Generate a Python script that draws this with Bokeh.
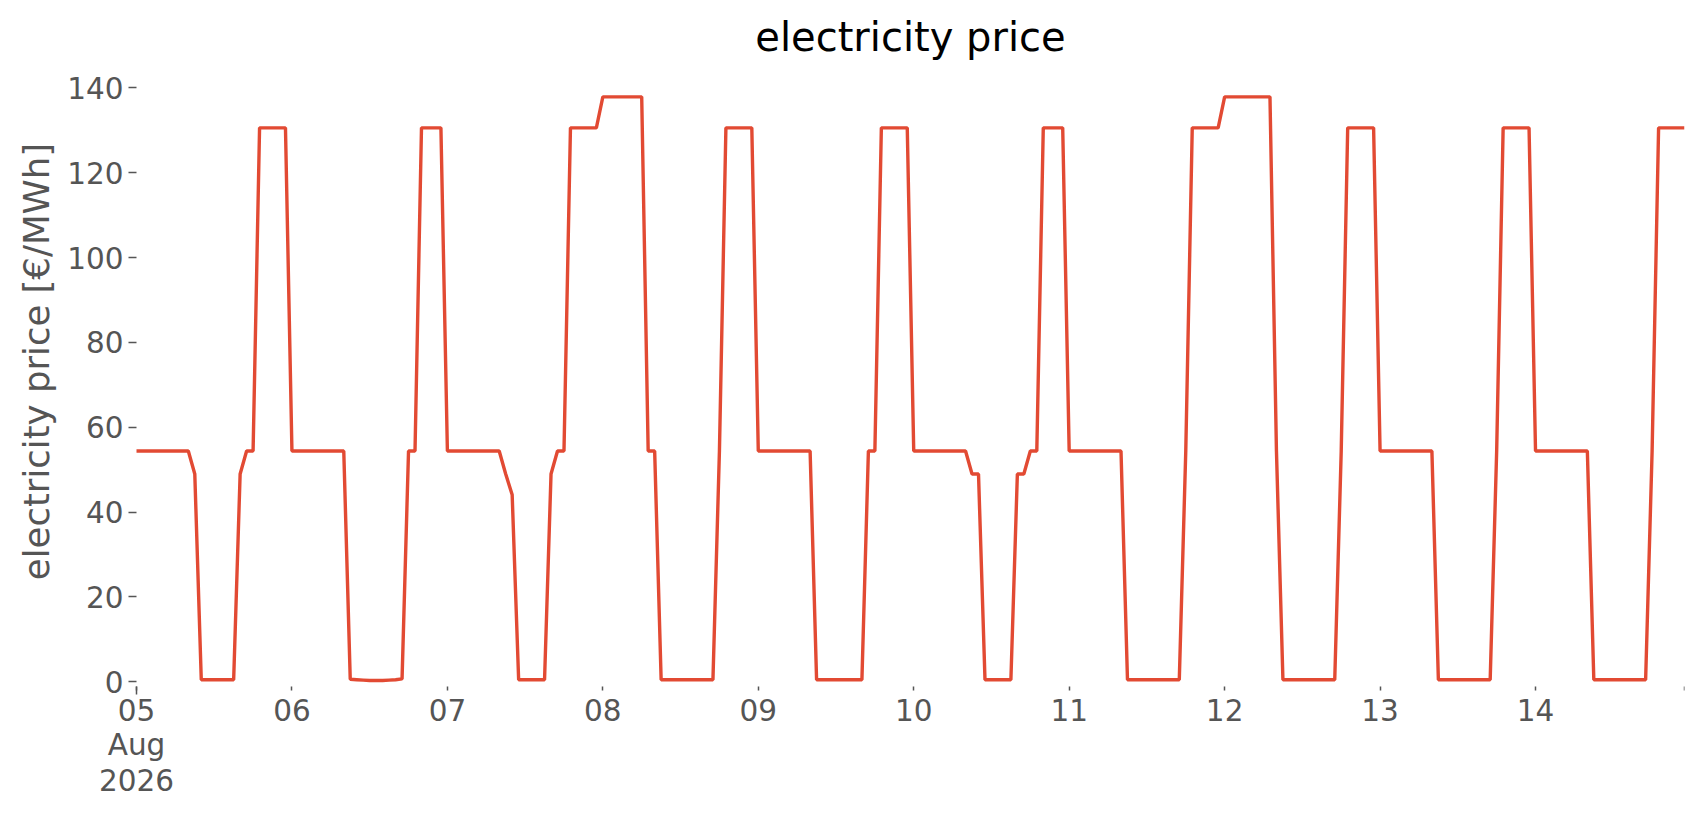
import math
import pandas as pd
from bokeh.plotting import figure
from bokeh.models import Range1d, FixedTicker, Label, ColumnDataSource
from bokeh.embed import file_html
from bokeh.resources import INLINE

# ---- data: hourly electricity price [EUR/MWh], one list per day ----
start = "2026-08-05 00:00"
aug05 = [54.4, 54.4, 54.4, 54.4, 54.4, 54.4, 54.4, 54.4, 54.4, 49.0, 0.5, 0.5,
         0.5, 0.5, 0.5, 0.5, 49.0, 54.4, 54.4, 130.6, 130.6, 130.6, 130.6, 130.6]
aug06 = [54.4, 54.4, 54.4, 54.4, 54.4, 54.4, 54.4, 54.4, 54.4, 0.6, 0.5, 0.4,
         0.3, 0.3, 0.3, 0.4, 0.5, 0.7, 54.4, 54.4, 130.6, 130.6, 130.6, 130.6]
aug07 = [54.4, 54.4, 54.4, 54.4, 54.4, 54.4, 54.4, 54.4, 54.4, 49.0, 44.1, 0.5,
         0.5, 0.5, 0.5, 0.5, 49.0, 54.4, 54.4, 130.6, 130.6, 130.6, 130.6, 130.6]
aug08 = [137.9, 137.9, 137.9, 137.9, 137.9, 137.9, 137.9, 54.4, 54.4, 0.5, 0.5, 0.5,
         0.5, 0.5, 0.5, 0.5, 0.5, 0.5, 54.4, 130.6, 130.6, 130.6, 130.6, 130.6]
aug09 = [54.4, 54.4, 54.4, 54.4, 54.4, 54.4, 54.4, 54.4, 54.4, 0.5, 0.5, 0.5,
         0.5, 0.5, 0.5, 0.5, 0.5, 54.4, 54.4, 130.6, 130.6, 130.6, 130.6, 130.6]
aug10 = [54.4, 54.4, 54.4, 54.4, 54.4, 54.4, 54.4, 54.4, 54.4, 49.0, 49.0, 0.5,
         0.5, 0.5, 0.5, 0.5, 49.0, 49.0, 54.4, 54.4, 130.6, 130.6, 130.6, 130.6]
aug11 = [54.4, 54.4, 54.4, 54.4, 54.4, 54.4, 54.4, 54.4, 54.4, 0.5, 0.5, 0.5,
         0.5, 0.5, 0.5, 0.5, 0.5, 0.5, 54.4, 130.6, 130.6, 130.6, 130.6, 130.6]
aug12 = [137.9, 137.9, 137.9, 137.9, 137.9, 137.9, 137.9, 137.9, 54.4, 0.5, 0.5, 0.5,
         0.5, 0.5, 0.5, 0.5, 0.5, 0.5, 54.4, 130.6, 130.6, 130.6, 130.6, 130.6]
aug13 = [54.4, 54.4, 54.4, 54.4, 54.4, 54.4, 54.4, 54.4, 54.4, 0.5, 0.5, 0.5,
         0.5, 0.5, 0.5, 0.5, 0.5, 0.5, 54.4, 130.6, 130.6, 130.6, 130.6, 130.6]
aug14 = [54.4, 54.4, 54.4, 54.4, 54.4, 54.4, 54.4, 54.4, 54.4, 0.5, 0.5, 0.5,
         0.5, 0.5, 0.5, 0.5, 0.5, 0.5, 54.4, 130.6, 130.6, 130.6, 130.6, 130.6]

day_labels = ["05", "06", "07", "08", "09", "10", "11", "12", "13", "14"]
first_label_context = ["Aug", "2026"]
y_ticks = [0, 20, 40, 60, 80, 100, 120, 140]

title_text = "electricity price"
y_title = "electricity price [€/MWh]"

# ---- build ----
prices = aug05 + aug06 + aug07 + aug08 + aug09 + aug10 + aug11 + aug12 + aug13 + aug14
times = pd.date_range(start, periods=len(prices), freq="h")
source = ColumnDataSource(data=dict(t=times, price=prices))

epoch = pd.Timestamp("1970-01-01")
def ms(ts):
    return int((pd.Timestamp(ts) - epoch) // pd.Timedelta("1ms"))

day_times = pd.date_range(start, periods=len(day_labels), freq="D")
day_ms = [ms(d) for d in day_times]
t0_ms = ms(times[0])
end_ms = ms(times[-1])

FONT = "DejaVu Sans"
GREY = "#555555"

# layout geometry (pixels inside the figure)
W, H = 1688, 798
B_LEFT, B_RIGHT, B_TOP, B_BOTTOM = 2, 4, 62, 0
DATA_LEFT_PX = 136          # horizontal position of the first timestamp
Y_PX_PER_UNIT = 4.2417      # vertical scale
Y142_PX = 79.0              # vertical position of value 142
data_w = W - B_RIGHT - DATA_LEFT_PX
ms_per_px = (end_ms - t0_ms) / data_w
x_start = t0_ms - (DATA_LEFT_PX - B_LEFT) * ms_per_px
y_top = 142 + (Y142_PX - B_TOP) / Y_PX_PER_UNIT
y_bottom = 142 - (H - B_BOTTOM - Y142_PX) / Y_PX_PER_UNIT

p = figure(width=W, height=H, x_axis_type="datetime",
           output_backend="svg", toolbar_location=None,
           min_border_left=B_LEFT, min_border_right=B_RIGHT,
           min_border_top=B_TOP, min_border_bottom=B_BOTTOM)
p.x_range = Range1d(x_start, end_ms)
p.y_range = Range1d(y_bottom, y_top)

p.line("t", "price", source=source, line_color="#E24A33", line_width=3.4)

# title, centred over the data area
TITLE_SIZE = 40
title_w = 7.758 * TITLE_SIZE
p.title.text = title_text
p.title.text_font = FONT
p.title.text_font_size = f"{TITLE_SIZE}px"
p.title.text_font_style = "normal"
p.title.text_color = "#000000"
p.title.align = "left"
p.title.offset = (DATA_LEFT_PX + W - B_RIGHT) / 2 - title_w / 2 - B_LEFT
p.title.standoff = 5

# frame / grid
p.outline_line_color = None
p.xgrid.visible = False
p.ygrid.visible = False
p.background_fill_color = "white"
p.border_fill_color = "white"

# x axis, pinned just under zero
xa = p.xaxis[0]
xa.fixed_location = -1.2
xa.ticker = FixedTicker(ticks=day_ms + [end_ms], minor_ticks=[day_ms[0]])
overrides = {k: v for k, v in zip(day_ms, day_labels)}
overrides[end_ms] = ""
xa.major_label_overrides = overrides
xa.axis_line_color = None
xa.major_tick_line_color = GREY
xa.major_tick_line_width = 1.5
xa.major_tick_out = 4
xa.major_tick_in = 0
xa.minor_tick_line_color = GREY
xa.minor_tick_line_width = 1.5
xa.minor_tick_out = 8
xa.minor_tick_in = 0
xa.major_label_text_font = FONT
xa.major_label_text_font_size = "29.5px"
xa.major_label_text_color = GREY
xa.major_label_standoff = 4

# context lines under the first date label
context_y = [-14.8, -23.2]
for txt, yy in zip(first_label_context, context_y):
    p.add_layout(Label(x=day_ms[0], y=yy, x_units="data", y_units="data",
                       text=txt, text_font=FONT, text_font_size="29.5px",
                       text_color=GREY, text_align="center", text_baseline="middle"))

# y axis, pinned at the first timestamp
ya = p.yaxis[0]
ya.fixed_location = t0_ms
ya.ticker = FixedTicker(ticks=y_ticks)
ya.axis_line_color = None
ya.major_tick_line_color = GREY
ya.major_tick_line_width = 1.5
ya.major_tick_out = 8
ya.major_tick_in = 0
ya.minor_tick_line_color = None
ya.major_label_text_font = FONT
ya.major_label_text_font_size = "29.5px"
ya.major_label_text_color = GREY
ya.major_label_standoff = 5

# y axis title
p.add_layout(Label(x=x_start + (36 - B_LEFT) * ms_per_px, y=75.5,
                   x_units="data", y_units="data", angle=math.pi / 2,
                   text=y_title, text_font=FONT, text_font_size="35.5px",
                   text_color=GREY, text_align="center", text_baseline="middle"))

open("out.html", "w").write(file_html(p, INLINE))
